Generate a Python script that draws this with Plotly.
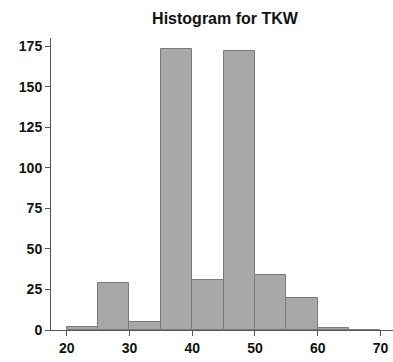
import plotly.graph_objects as go

bin_starts = [20, 25, 30, 35, 40, 45, 50, 55, 60, 65]
counts = [2, 29, 5, 173, 31, 172, 34, 20, 1, 0]
x_ticks = [20, 30, 40, 50, 60, 70]
y_ticks = [0, 25, 50, 75, 100, 125, 150, 175]

centers = [s + 2.5 for s in bin_starts]

fig = go.Figure(go.Bar(
    x=centers, y=counts, width=5,
    marker=dict(color="#a8a8a8", line=dict(color="#7a7a7a", width=1)),
))

fig.update_layout(
    width=393, height=362,
    margin=dict(l=51, r=0, t=38, b=32),
    plot_bgcolor="white", paper_bgcolor="white",
    showlegend=False, bargap=0,
    title=dict(text="<b>Histogram for TKW</b>", x=225 / 393, xanchor="center", y=1 - 18 / 362, yanchor="middle",
               font=dict(family="Liberation Sans, Arial", size=16, color="#111")),
    font=dict(family="Liberation Sans, Arial", size=14, color="#111"),
)
fig.update_xaxes(range=[17.5, 72], tickvals=x_ticks, ticktext=[f"<b>{v}</b>" for v in x_ticks],
                 showgrid=False, zeroline=False, showline=True, linecolor="#555", linewidth=1,
                 ticks="outside", ticklen=5, tickcolor="#555", automargin=False)
fig.update_yaxes(range=[0, 180], tickvals=y_ticks, ticktext=[f"<b>{v}</b>" for v in y_ticks],
                 showgrid=False, zeroline=False, showline=True, linecolor="#555", linewidth=1,
                 ticks="outside", ticklen=5, tickcolor="#555", automargin=False)

fig.write_html("out.html", config={"displayModeBar": False},
               post_script="document.body.style.margin='0px';")
